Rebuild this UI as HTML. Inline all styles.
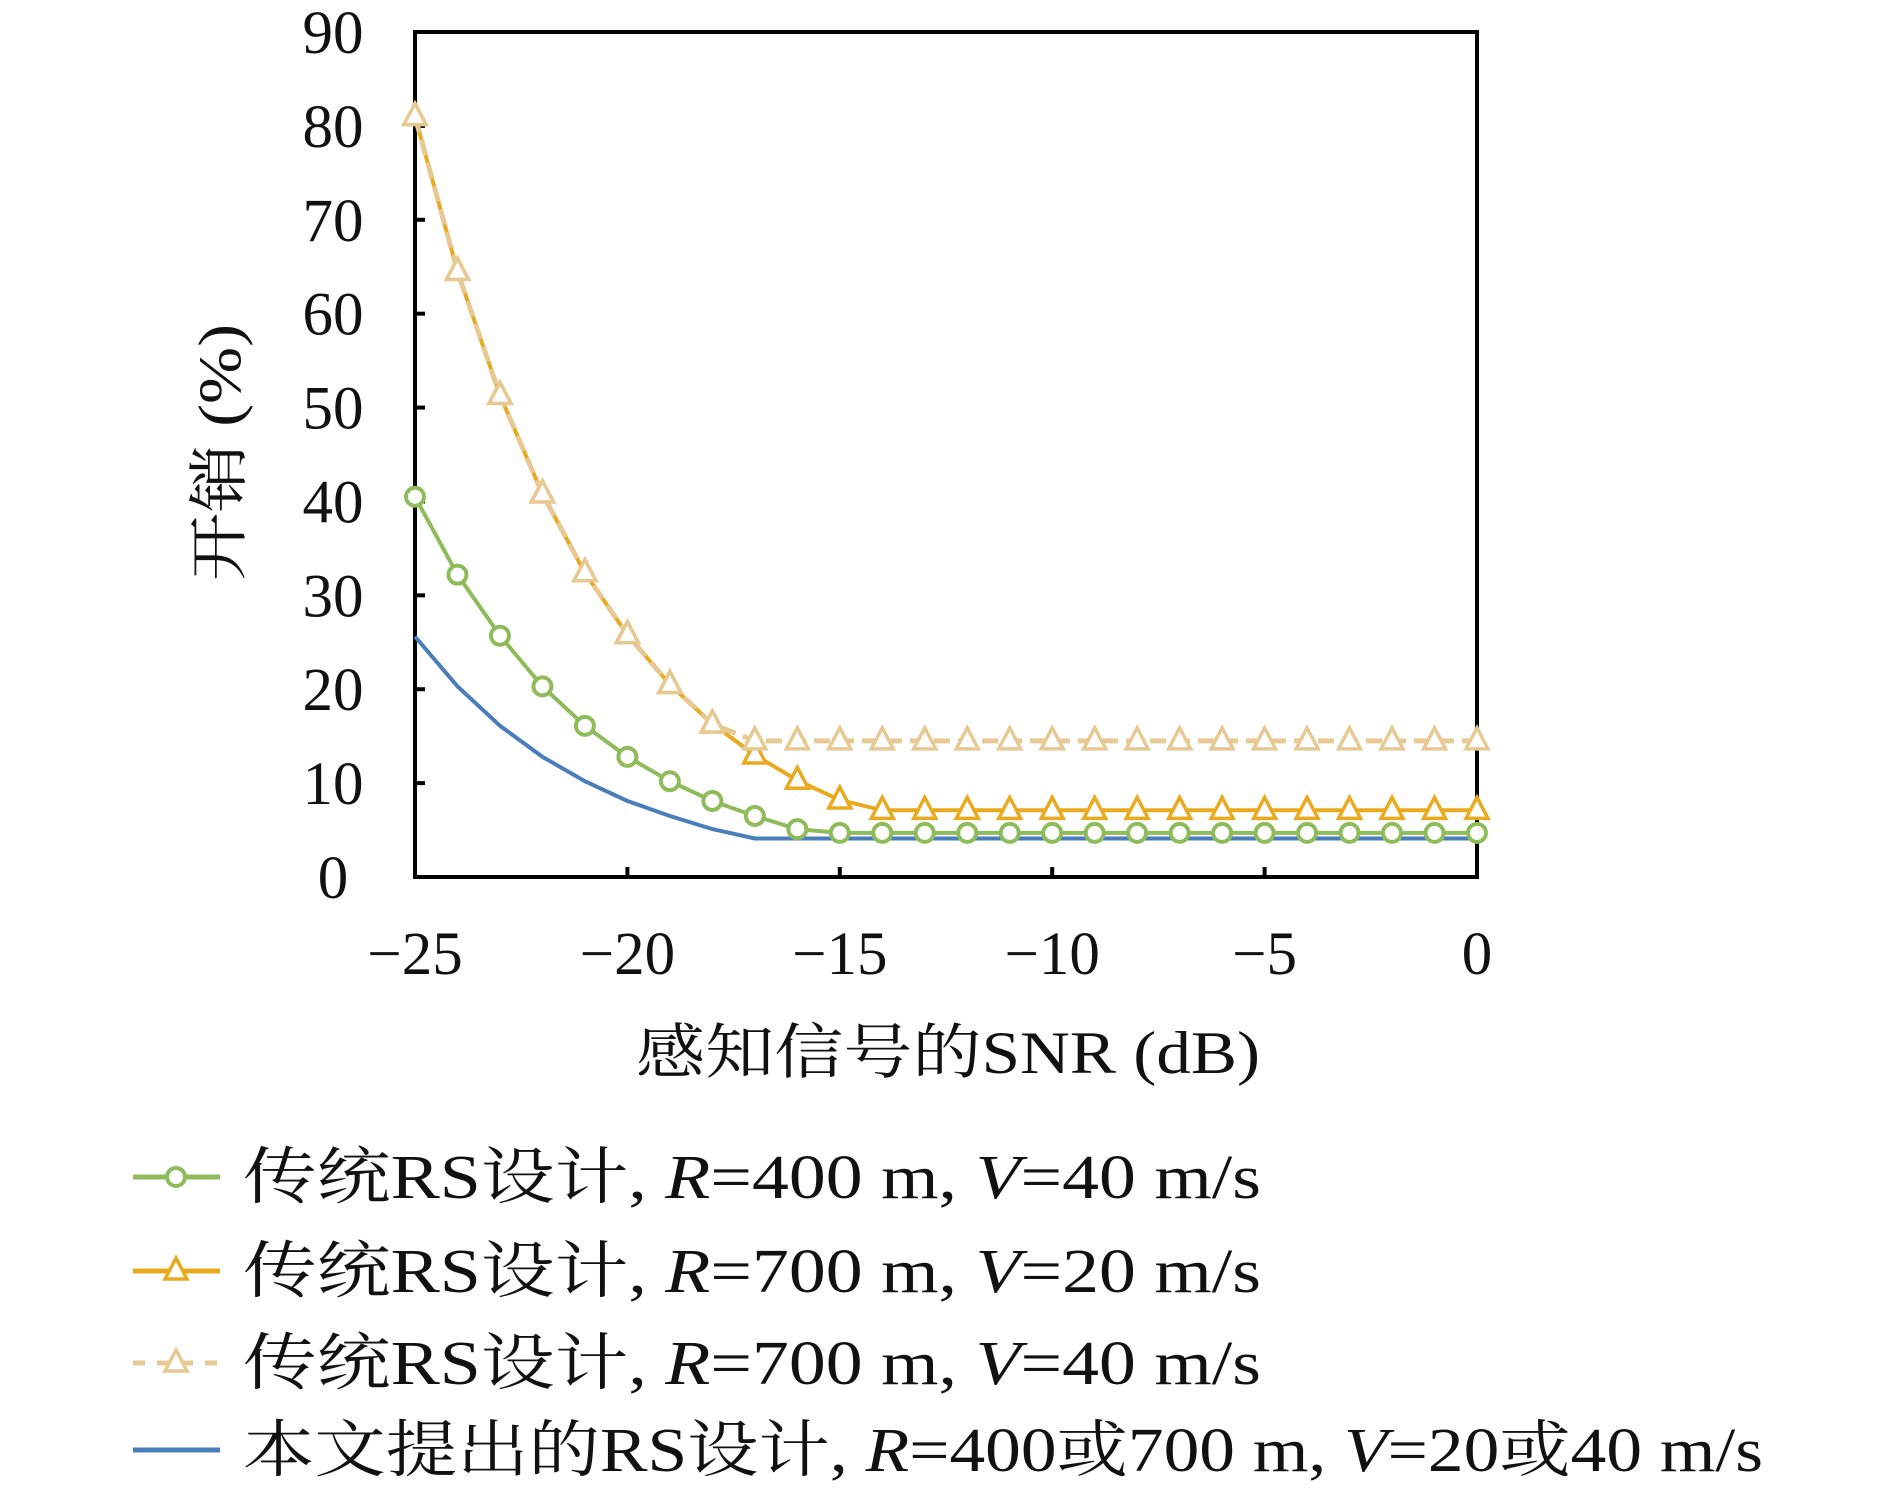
<!DOCTYPE html>
<html><head><meta charset="utf-8">
<style>
html,body{margin:0;padding:0;background:#fff;}
svg{display:block;}
text{font-family:"Liberation Serif","Noto Serif CJK SC",serif;fill:#111;}
</style></head>
<body>
<svg id="chart" width="1890" height="1492" viewBox="0 0 1890 1492" xmlns="http://www.w3.org/2000/svg">
<g id="plot"></g>
<g id="legend"></g>
</svg>
<script>
const xCats = [-25,-24,-23,-22,-21,-20,-19,-18,-17,-16,-15,-14,-13,-12,-11,-10,-9,-8,-7,-6,-5,-4,-3,-2,-1,0];
const greenVals = [40.5,32.2,25.7,20.3,16.1,12.8,10.2,8.1,6.5,5.1,4.7,4.7,4.7,4.7,4.7,4.7,4.7,4.7,4.7,4.7,4.7,4.7,4.7,4.7,4.7,4.7];
const orangeVals = [81,64.5,51.3,40.8,32.4,25.8,20.5,16.3,13.0,10.3,8.2,7.1,7.1,7.1,7.1,7.1,7.1,7.1,7.1,7.1,7.1,7.1,7.1,7.1,7.1,7.1];
const tanVals = [81,64.5,51.3,40.8,32.4,25.8,20.5,16.3,14.5,14.5,14.5,14.5,14.5,14.5,14.5,14.5,14.5,14.5,14.5,14.5,14.5,14.5,14.5,14.5,14.5,14.5];
const blueVals = [25.6,20.3,16.1,12.8,10.2,8.1,6.5,5.1,4.1,4.1,4.1,4.1,4.1,4.1,4.1,4.1,4.1,4.1,4.1,4.1,4.1,4.1,4.1,4.1,4.1,4.1];
const yTicks = [0,10,20,30,40,50,60,70,80,90];
const xTicks = [-25,-20,-15,-10,-5,0];
const xTickLabels = ["\u221225","\u221220","\u221215","\u221210","\u22125","0"];

const NS="http://www.w3.org/2000/svg";
const L=415,R=1477,T=32,B=877;
const xs=v=>L+(v+25)/25*(R-L);
const ys=v=>B-v/90*(B-T);
const plot=document.getElementById('plot');
const leg=document.getElementById('legend');
function mk(tag,attrs,parent){const e=document.createElementNS(NS,tag);for(const k in attrs)e.setAttribute(k,attrs[k]);parent.appendChild(e);return e;}

const frame=mk('rect',{x:L,y:T,width:R-L,height:B-T,fill:'none',stroke:'#000','stroke-width':4},plot);


yTicks.forEach(v=>{
  const t=mk('line',{x1:L,x2:L+10,y1:ys(v),y2:ys(v),stroke:'#000','stroke-width':4},plot);
  
  
  const lb=mk('text',{x:333,y:ys(v)+21,'text-anchor':'middle','font-size':61},plot);
  lb.textContent=v;
  
  
});
xTicks.forEach((v,i)=>{
  const t=mk('line',{x1:xs(v),x2:xs(v),y1:B,y2:B-10,stroke:'#000','stroke-width':4},plot);
  
  
  const lb=mk('text',{x:xs(v),y:974,'text-anchor':'middle','font-size':61},plot);
  lb.textContent=xTickLabels[i];
  
  
});
const xt=mk('text',{x:636,y:1073,'font-size':60,textLength:624,lengthAdjust:'spacingAndGlyphs'},plot);
xt.textContent='感知信号的SNR (dB)';


const yt=mk('text',{x:-128,y:0,'font-size':60,textLength:257,lengthAdjust:'spacingAndGlyphs',transform:'translate(240,453) rotate(-90)'},plot);
yt.textContent='开销 (%)';



function pts(vals){return vals.map((v,i)=>xs(xCats[i]).toFixed(1)+','+ys(v).toFixed(1)).join(' ');}
function tri(g,x,y,color){
  return mk('polygon',{points:`${x},${y-13} ${x-11},${y+8} ${x+11},${y+8}`,fill:'#fff',stroke:color,'stroke-width':3.5},g);
}
const bl=mk('polyline',{points:pts(blueVals),fill:'none',stroke:'#4a7ebb','stroke-width':4},plot);


const gg=mk('g',{},plot);


mk('polyline',{points:pts(greenVals),fill:'none',stroke:'#8fbc5a','stroke-width':4},gg);
greenVals.forEach((v,i)=>{
  const c=mk('circle',{cx:xs(xCats[i]),cy:ys(v),r:9,fill:'#fff',stroke:'#8fbc5a','stroke-width':4},gg);
  
  
});
const og=mk('g',{},plot);


mk('polyline',{points:pts(orangeVals),fill:'none',stroke:'#eaaa1f','stroke-width':4},og);
orangeVals.forEach((v,i)=>{
  const m=tri(og,xs(xCats[i]),ys(v),'#eaaa1f');
  
  
});
const tg=mk('g',{},plot);


mk('polyline',{points:pts(tanVals),fill:'none',stroke:'#e6c993','stroke-width':5,'stroke-dasharray':'16,8'},tg);
tanVals.forEach((v,i)=>{
  const m=tri(tg,xs(xCats[i]),ys(v),'#e6c993');
  
  
});

const items=[
 {y:1177,color:'#8fbc5a',mark:'circle',dash:null,pre:'传统RS设计, ',r:'=400 m, ',v:'=40 m/s',w:1018},
 {y:1271,color:'#eaaa1f',mark:'tri',dash:null,pre:'传统RS设计, ',r:'=700 m, ',v:'=20 m/s',w:1018},
 {y:1363,color:'#e6c993',mark:'tri',dash:'12,12',pre:'传统RS设计, ',r:'=700 m, ',v:'=40 m/s',w:1018},
 {y:1450,color:'#4a7ebb',mark:null,dash:null,pre:'本文提出的RS设计, ',r:'=400或700 m, ',v:'=20或40 m/s',w:1520}
];
items.forEach(it=>{
  const g=mk('g',{},leg);
  
  
  const ln=mk('line',{x1:133,x2:220,y1:it.y,y2:it.y,stroke:it.color,'stroke-width':5},g);
  if(it.dash)ln.setAttribute('stroke-dasharray',it.dash);
  if(it.mark==='circle')mk('circle',{cx:176,cy:it.y,r:9,fill:'#fff',stroke:it.color,'stroke-width':4},g);
  if(it.mark==='tri')tri(g,176,it.y,it.color);
  const tx=mk('text',{x:243,y:it.y+21,'font-size':62,textLength:it.w,lengthAdjust:'spacingAndGlyphs'},g);
  tx.innerHTML=`${it.pre}<tspan font-style="italic">R</tspan>${it.r}<tspan font-style="italic">V</tspan>${it.v}`;
});
</script>
</body></html>
